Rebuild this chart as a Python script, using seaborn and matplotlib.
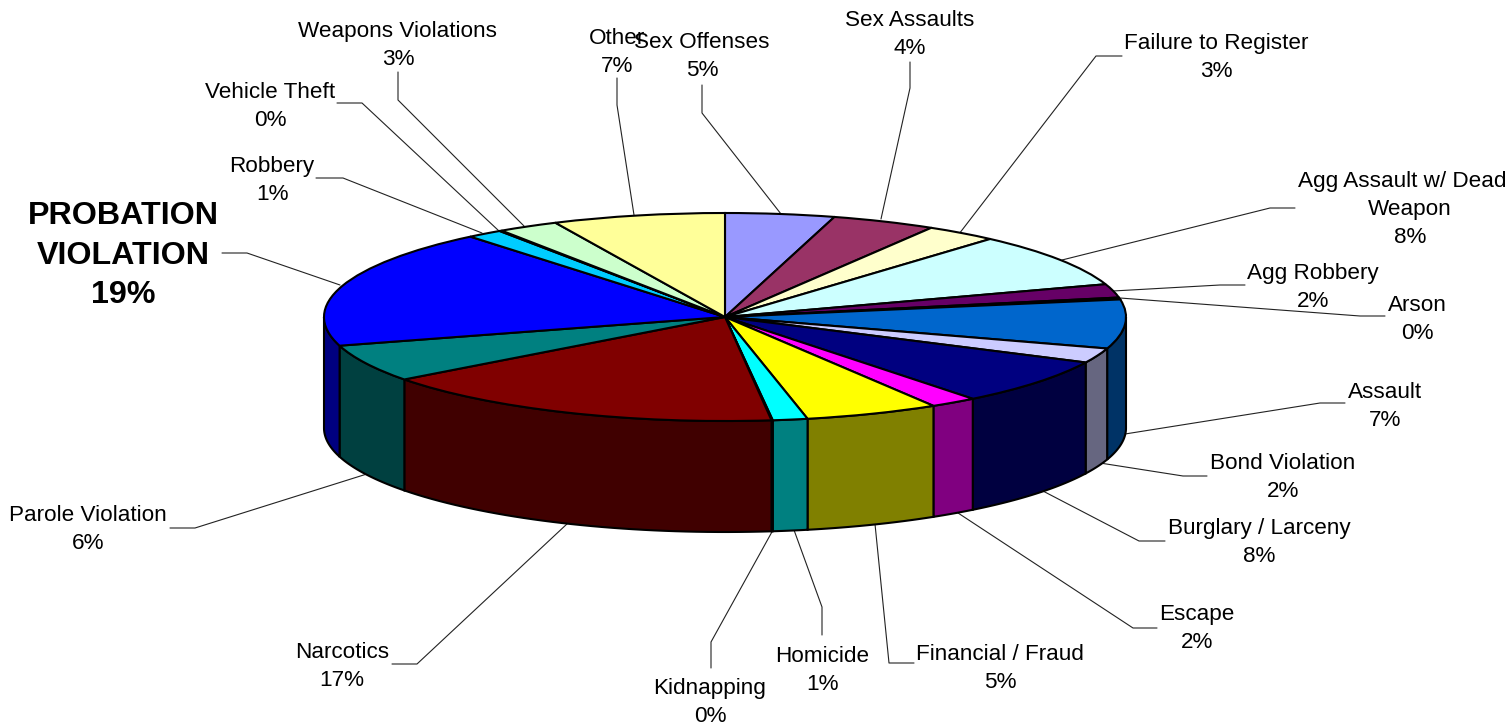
import matplotlib
import numpy as np
import seaborn as sns

matplotlib.use("Agg")
import matplotlib.pyplot as plt
from matplotlib.transforms import Affine2D

CATEGORIES = [
    "Sex Offenses", "Sex Assaults", "Failure to Register", "Agg Assault w/ Deadly\nWeapon",
    "Agg Robbery", "Arson", "Assault", "Bond Violation", "Burglary / Larceny", "Escape",
    "Financial / Fraud", "Homicide", "Kidnapping", "Narcotics", "Parole Violation",
    "PROBATION\nVIOLATION", "Robbery", "Vehicle Theft", "Weapons Violations", "Other",
]
# slice sizes, the printed labels are rounded differently
SHARES = [4.4, 4.2, 2.9, 8.4, 2.1, 0.3, 7.6, 2.3, 7.2, 1.9, 5.4, 1.4, 0.05, 16.6, 5.8, 18.5, 1.45, 0.1, 2.45, 6.95]
PRINTED_PCT = [5, 4, 3, 8, 2, 0, 7, 2, 8, 2, 5, 1, 0, 17, 6, 19, 1, 0, 3, 7]
SLICE_COLORS = [
    "#9999FF", "#993366", "#FFFFCC", "#CCFFFF", "#660066", "#FF8080", "#0066CC", "#CCCCFF",
    "#000080", "#FF00FF", "#FFFF00", "#00FFFF", "#800080", "#800000", "#008080", "#0000FF",
    "#00CCFF", "#CCFFFF", "#CCFFCC", "#FFFF99",
]

# layout, in image pixels
CENTER_X, CENTER_Y = 725, 317
RADIUS_X, RADIUS_Y = 401, 104
DEPTH = 111
LABEL_XY = [
    (702, 56.5), (910, 34.5), (1216, 57.5), (1410, 209.5), (1313, 287.5), (1417, 319.5), (1385, 406.5),
    (1283, 477.5), (1259, 542.5), (1197, 628.5), (1000, 668.5), (822, 670.5), (710, 702.5), (342, 666.5),
    (88, 529.5), (123, 255.5), (272, 180.5), (270, 106.5), (398, 45.5), (617, 52.5),
]
LEADERS = [
    [(702, 85), (702, 113), (781, 214)],
    [(910, 62), (910, 88), (881, 219)],
    [(1122, 56), (1096, 56), (959, 234)],
    [(1295, 208), (1270, 208), (1062, 260)],
    [(1245, 285), (1220, 285), (1113, 291)],
    [(1385, 316), (1360, 316), (1120, 298)],
    [(1345, 403), (1320, 403), (1125, 434)],
    [(1207, 476), (1183, 476), (1100, 463)],
    [(1165, 541), (1139, 541), (1041, 490)],
    [(1157, 628), (1133, 628), (955, 511)],
    [(914, 663), (889, 663), (875, 524)],
    [(822, 635), (822, 607), (794, 530)],
    [(711, 668), (711, 642), (773, 530)],
    [(392, 664), (417, 664), (568, 523)],
    [(170, 528), (195, 528), (370, 473)],
    [(222, 253), (247, 253), (340, 285)],
    [(316, 178), (343, 178), (482, 233)],
    [(337, 103), (362, 103), (499, 231)],
    [(398, 72), (398, 100), (524, 226)],
    [(617, 78), (617, 105), (634, 215)],
]


def draw_wall(ax, wedge, color):
    """Side of the disc, only for the part of a slice facing the viewer."""
    for base in (-360, 0, 360):
        low = max(wedge.theta1, base + 180)
        high = min(wedge.theta2, base + 360)
        if high <= low:
            continue
        angles = np.radians(np.linspace(low, high, 40))
        xs = CENTER_X + RADIUS_X * np.cos(angles)
        ys = CENTER_Y - RADIUS_Y * np.sin(angles)
        ax.fill(
            np.r_[xs, xs[::-1]],
            np.r_[ys, ys[::-1] + DEPTH],
            facecolor=color,
            edgecolor="black",
            linewidth=1.5,
            zorder=1,
        )


def main() -> None:
    sns.set_theme(style="white")
    plt.rcParams["font.family"] = ["Liberation Sans", "DejaVu Sans"]

    palette = sns.color_palette(SLICE_COLORS)
    fig = plt.figure(figsize=(15.12, 7.27), dpi=100)
    ax = fig.add_axes([0, 0, 1505 / 1512, 1])

    wedges, _ = ax.pie(
        SHARES,
        colors=palette,
        startangle=90,
        counterclock=False,
        normalize=True,
        wedgeprops={"edgecolor": "black", "linewidth": 1.5, "zorder": 2},
    )
    to_pixels = Affine2D().scale(RADIUS_X, -RADIUS_Y).translate(CENTER_X, CENTER_Y) + ax.transData
    for wedge, color in zip(wedges, palette):
        wedge.set_transform(to_pixels)
        draw_wall(ax, wedge, tuple(c * 0.5 for c in color))

    ax.set_aspect("auto")
    ax.set_xlim(0, 1505)
    ax.set_ylim(727, 0)

    for name, pct, (x, y), leader in zip(CATEGORIES, PRINTED_PCT, LABEL_XY, LEADERS):
        bold = name.startswith("PROBATION")
        ax.text(
            x, y, f"{name}\n{pct}%",
            ha="center", va="center", color="black",
            fontsize=23.2 if bold else 16.2,
            fontweight="bold" if bold else "normal",
            linespacing=1.43 if bold else 1.46,
            clip_on=True, zorder=4,
        )
        ax.plot(*zip(*leader), color="#222222", linewidth=0.8, zorder=0)

    fig.savefig("out.png", dpi=100)
    plt.close(fig)


if __name__ == "__main__":
    main()
